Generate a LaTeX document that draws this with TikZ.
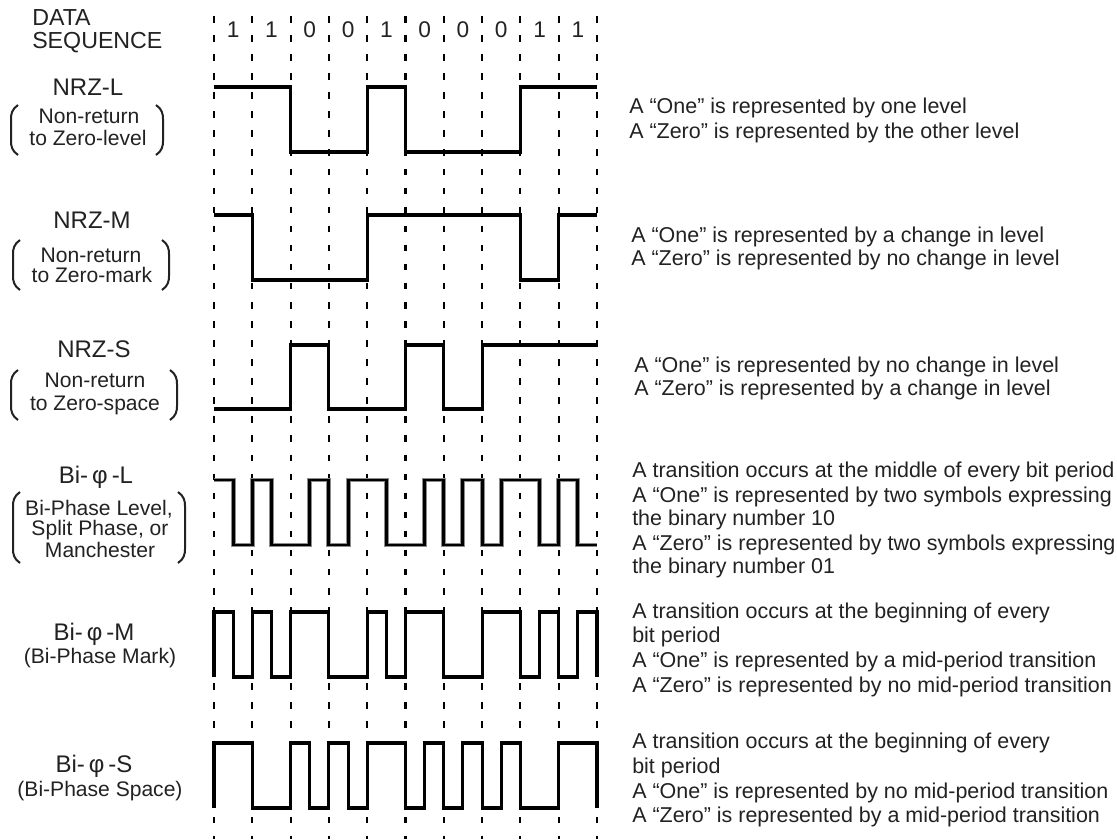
\documentclass[tikz,border=0pt]{standalone}
\usepackage{fontspec}
\setmainfont{Liberation Sans}
\definecolor{txt}{RGB}{34,34,34}
\tikzset{
  wave/.style={line width=2.3pt, black, line join=miter, line cap=butt},
  halo/.style={line width=3.7pt, black!45, line join=miter, line cap=butt},
  gridline/.style={line width=1.6pt, black, dash pattern=on 4.9pt off 9.4pt},
  desc/.style={anchor=base west, inner sep=0pt, text=txt, font=\fontsize{16.1pt}{18pt}\selectfont},
  title/.style={anchor=base, inner sep=0pt, text=txt, font=\fontsize{18pt}{20pt}\selectfont},
  sub/.style={anchor=base, inner sep=0pt, text=txt, font=\fontsize{15.8pt}{18pt}\selectfont},
  digit/.style={anchor=base, inner sep=0pt, text=txt, font=\fontsize{17pt}{18pt}\selectfont},
  head/.style={anchor=base west, inner sep=0pt, text=txt, font=\fontsize{17.4pt}{20pt}\selectfont},
  brk/.style={line width=1.5pt, txt},
}
\newcommand\pbrk[4]{%
  \draw[brk] ({#1+7},#3) .. controls ({#1+1},{#3+4}) and (#1,{#3+9}) .. (#1,{#3+14})
    -- (#1,{#4-14}) .. controls (#1,{#4-9}) and ({#1+1},{#4-4}) .. ({#1+7},#4);
  \draw[brk] ({#2-7},#3) .. controls ({#2-1},{#3+4}) and (#2,{#3+9}) .. (#2,{#3+14})
    -- (#2,{#4-14}) .. controls (#2,{#4-9}) and ({#2-1},{#4-4}) .. ({#2-7},#4);
}
\begin{document}
\begin{tikzpicture}[x=0.75pt,y=-0.75pt]
\useasboundingbox (0,0) rectangle (1117,839);
\fill[white] (0,0) rectangle (1117,839);
% header
\node[head] (data) at (32,25) {DATA};
\node[head] (seq) at (32,48) {SEQUENCE};
\begin{scope}[xshift=160.5pt, x=28.725pt]
  \foreach \k in {0,...,10} \draw[gridline] (\k,16) -- (\k,839);
  \foreach \d [count=\i from 0] in {1,1,0,0,1,0,0,0,1,1}
    \node[digit] (d\i) at ({\i+0.5},37) {\d};
  % NRZ-L
  \draw[wave] (0,87) -- (2,87) -- (2,152) -- (4,152) -- (4,87) -- (5,87) -- (5,152)
    -- (8,152) -- (8,87) -- (10,87);
  % NRZ-M
  \draw[wave] (0,215) -- (1,215) -- (1,280) -- (4,280) -- (4,215) -- (8,215) -- (8,280)
    -- (9,280) -- (9,215) -- (10,215);
  % NRZ-S
  \draw[wave] (0,409) -- (2,409) -- (2,345) -- (3,345) -- (3,409) -- (5,409) -- (5,345)
    -- (6,345) -- (6,409) -- (7,409) -- (7,345) -- (10,345);
  % Bi-phi-L
  \def\bil{(0,480) -- (0.5,480) -- (0.5,545) -- (1,545) -- (1,480) -- (1.5,480) -- (1.5,545)
    -- (2.5,545) -- (2.5,480) -- (3,480) -- (3,545) -- (3.5,545) -- (3.5,480) -- (4.5,480)
    -- (4.5,545) -- (5.5,545) -- (5.5,480) -- (6,480) -- (6,545) -- (6.5,545) -- (6.5,480)
    -- (7,480) -- (7,545) -- (7.5,545) -- (7.5,480) -- (8.5,480) -- (8.5,545) -- (9,545)
    -- (9,480) -- (9.5,480) -- (9.5,545) -- (10,545)}
  \draw[halo] \bil;
  \draw[wave, line width=2.2pt] \bil;
  % Bi-phi-M
  \draw[wave] (0,677) -- (0,612) -- (0.5,612) -- (0.5,677) -- (1,677) -- (1,612) -- (1.5,612)
    -- (1.5,677) -- (2,677) -- (2,612) -- (3,612) -- (3,677) -- (4,677) -- (4,612)
    -- (4.5,612) -- (4.5,677) -- (5,677) -- (5,612) -- (6,612) -- (6,677) -- (7,677)
    -- (7,612) -- (8,612) -- (8,677) -- (8.5,677) -- (8.5,612) -- (9,612) -- (9,677)
    -- (9.5,677) -- (9.5,612) -- (10,612) -- (10,677);
  % Bi-phi-S
  \draw[wave] (0,808) -- (0,743) -- (1,743) -- (1,808) -- (2,808) -- (2,743) -- (2.5,743)
    -- (2.5,808) -- (3,808) -- (3,743) -- (3.5,743) -- (3.5,808) -- (4,808) -- (4,743)
    -- (5,743) -- (5,808) -- (5.5,808) -- (5.5,743) -- (6,743) -- (6,808) -- (6.5,808)
    -- (6.5,743) -- (7,743) -- (7,808) -- (7.5,808) -- (7.5,743) -- (8,743) -- (8,808)
    -- (9,808) -- (9,743) -- (10,743) -- (10,808);
\end{scope}
% left labels
\node[title] (nrzl) at (88,95) {NRZ-L};
\node[sub] (nrzl1) at (89,123) {Non-return};
\node[sub] (nrzl2) at (88,145) {to Zero-level};
\pbrk{11}{163}{105}{155}
\node[title] (nrzm) at (92,228) {NRZ-M};
\node[sub] (nrzm1) at (91,262) {Non-return};
\node[sub] (nrzm2) at (92,282) {to Zero-mark};
\pbrk{13}{169}{240}{290}
\node[title] (nrzs) at (94,357) {NRZ-S};
\node[sub] (nrzs1) at (95,387) {Non-return};
\node[sub] (nrzs2) at (95,410) {to Zero-space};
\pbrk{11}{177}{370}{420}
\node[title] (bil) at (96,483) {Bi-\,φ\,-L};
\node[sub] (bil1) at (99,515) {Bi-Phase Level,};
\node[sub] (bil2) at (100,535) {Split Phase, or};
\node[sub] (bil3) at (100,557) {Manchester};
\pbrk{13}{185}{492}{563}
\node[title] (bim) at (94,640) {Bi-\,φ\,-M};
\node[sub] (bim1) at (100,663) {(Bi-Phase Mark)};
\node[title] (bis) at (94,772) {Bi-\,φ\,-S};
\node[sub] (bis1) at (100,796) {(Bi-Phase Space)};
% right descriptions
\node[desc] (r11) at (629,113) {A “One” is represented by one level};
\node[desc] (r12) at (629,138) {A “Zero” is represented by the other level};
\node[desc] (r21) at (631,242) {A “One” is represented by a change in level};
\node[desc] (r22) at (631,265) {A “Zero” is represented by no change in level};
\node[desc] (r31) at (634,372) {A “One” is represented by no change in level};
\node[desc] (r32) at (634,395) {A “Zero” is represented by a change in level};
\node[desc] (r41) at (632,477) {A transition occurs at the middle of every bit period};
\node[desc] (r42) at (632,502) {A “One” is represented by two symbols expressing};
\node[desc] (r43) at (632,525) {the binary number 10};
\node[desc] (r44) at (632,550) {A “Zero” is represented by two symbols expressing};
\node[desc] (r45) at (632,573) {the binary number 01};
\node[desc] (r51) at (632,618) {A transition occurs at the beginning of every};
\node[desc] (r52) at (632,642) {bit period};
\node[desc] (r53) at (632,667) {A “One” is represented by a mid-period transition};
\node[desc] (r54) at (632,692) {A “Zero” is represented by no mid-period transition};
\node[desc] (r61) at (632,748) {A transition occurs at the beginning of every};
\node[desc] (r62) at (632,773) {bit period};
\node[desc] (r63) at (632,798) {A “One” is represented by no mid-period transition};
\node[desc] (r64) at (632,822) {A “Zero” is represented by a mid-period transition};
\end{tikzpicture}
\end{document}
